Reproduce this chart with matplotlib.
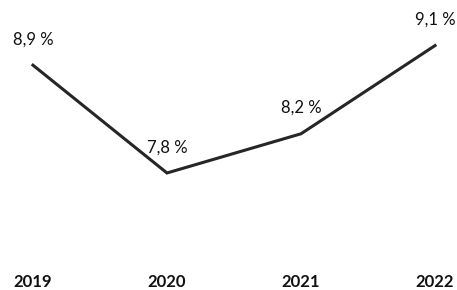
import matplotlib
matplotlib.use('Agg')
import matplotlib.pyplot as plt
import matplotlib.transforms as mtransforms

# data
years = ['2019', '2020', '2021', '2022']
values = [8.9, 7.8, 8.2, 9.1]
labels = ['8,9 %', '7,8 %', '8,2 %', '9,1 %']

plt.rcParams['font.family'] = ['Lato', 'DejaVu Sans']

fig = plt.figure(figsize=(4.57, 2.9), dpi=100)
ax = fig.add_axes([0, 0, 1, 1])
x = list(range(len(years)))

ax.plot(x, values, color='#262626', lw=2.2, solid_joinstyle='miter')

for xi, v, lab in zip(x, values, labels):
    ax.annotate(lab, (xi, v), xytext=(0, 18.5), textcoords='offset points',
                ha='center', va='center', fontsize=12, color='#111111')

trans = mtransforms.blended_transform_factory(ax.transData, ax.transAxes)
for xi, yr in zip(x, years):
    ax.text(xi, 0.026, yr, transform=trans, ha='center', va='center',
            fontsize=12, fontweight='bold', color='#111111')

ax.set_xlim(-0.246, 3.164)
ax.set_ylim(6.606, 9.565)
ax.axis('off')

fig.savefig('out.png', dpi=100, facecolor='white')
